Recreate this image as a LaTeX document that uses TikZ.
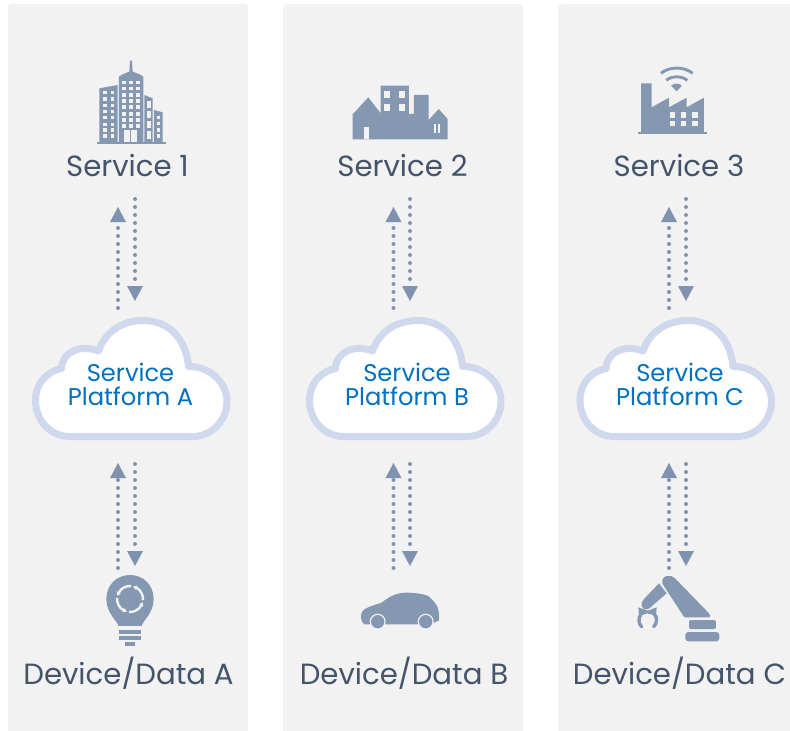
\documentclass[tikz,border=0pt]{standalone}
\usepackage{fontspec}
\setmainfont{Poppins}
\usetikzlibrary{arrows.meta}
\definecolor{panelbg}{HTML}{F2F2F2}
\definecolor{iconc}{HTML}{8598B2}
\definecolor{labelc}{HTML}{44546A}
\definecolor{cloudc}{HTML}{CFD8EC}
\definecolor{platc}{HTML}{0070C0}
\definecolor{arrowc}{HTML}{7F93B0}
\tikzset{
  panel/.style={fill=panelbg,draw=none,rounded corners=4pt},
  svc/.style={font=\fontsize{29.2}{32}\selectfont,text=labelc,inner sep=0pt,anchor=center},
  plat/.style={font=\fontsize{24.2}{24}\selectfont,text=platc,inner sep=0pt,align=center,anchor=center},
  dotarrow/.style={draw=arrowc,line width=4pt,line cap=round,dash pattern=on 0pt off 8pt,
     -{Triangle[width=16pt,length=15pt,sharp,line width=0pt]}},
  cloudshape/.style={fill=white,draw=cloudc,line width=7pt,line join=round},
  ic/.style={fill=iconc,draw=none},
  hole/.style={fill=panelbg,draw=none},
  zoomed/.style={shift={#1},scale=0.3333},
}
\newcommand{\cloudat}[1]{%
  \begin{scope}[shift={(#1,0)}]
  \path[cloudshape] (70,436.5) -- (193,436.5)
    .. controls (212,436.5) and (227,420) .. (227,401.5)
    .. controls (227,382) and (209,366) .. (188.5,366.5)
    .. controls (186,338) and (168,320.5) .. (143.5,320.5)
    .. controls (122,320.5) and (105,332) .. (98.5,351)
    .. controls (80,344) and (62,352) .. (61.5,368.5)
    .. controls (45,372) and (35.5,385) .. (35.5,400.5)
    .. controls (35.5,420) and (50,436.5) .. (70,436.5) -- cycle;
  \end{scope}}
\newcommand{\arrowpair}[3]{%
  \coordinate (u1#3) at (#1,308); \coordinate (u2#3) at (#1,207);
  \coordinate (d1#3) at (#2,199); \coordinate (d2#3) at (#2,301);
  \coordinate (u3#3) at (#1,568); \coordinate (u4#3) at (#1,463);
  \coordinate (d3#3) at (#2,464); \coordinate (d4#3) at (#2,566);
  \draw[dotarrow] (u1#3) -- (u2#3);
  \draw[dotarrow] (d1#3) -- (d2#3);
  \draw[dotarrow] (u3#3) -- (u4#3);
  \draw[dotarrow] (d3#3) -- (d4#3);}
\begin{document}
\begin{tikzpicture}[x=1pt,y=-1pt]
\useasboundingbox (0,0) rectangle (790,731);
\fill[white] (0,0) rectangle (790,731);
\begin{scope}
\clip (0,0) rectangle (790,731);
\path[panel] (8,4) rectangle (248,745);
\path[panel] (283,4) rectangle (523,745);
\path[panel] (558,4) rectangle (800,745);
\end{scope}
% arrows
\arrowpair{118}{135}{a}
\arrowpair{393.5}{410}{b}
\arrowpair{669}{686}{c}
% clouds
\cloudat{0}
\cloudat{274}
\cloudat{544.5}
% building
\begin{scope}[zoomed={(80,50)}]
\fill[ic] (50,275) rectangle (258,281);
\fill[ic] (117,277) -- (117,80) -- (130,72) -- (148,65) -- (150,32) -- (156,32) -- (158,65) -- (177,72) -- (190,80) -- (190,277) -- cycle;
\fill[ic] (58,277) -- (58,115) -- (113,105) -- (113,277) -- cycle;
\fill[ic] (193,277) -- (193,135) -- (218,145) -- (218,277) -- cycle;
\fill[ic] (222,277) -- (222,180) -- (248,187) -- (248,277) -- cycle;
\foreach \r in {92,110,130,148,166,186,205,222} \foreach \c in {126,148,168} \fill[hole] (\c,\r) rectangle ++(11,11);
\foreach \r in {122,142,162,180,198,218,235,253} \foreach \c in {70,92} \fill[hole] (\c,\r) rectangle ++(10,10);
\foreach \r in {152,182,212,243} \fill[hole] (200,\r) rectangle ++(12,23);
\foreach \r in {197,215,234,253} \fill[hole] (230,\r) rectangle ++(10,11);
\fill[hole] (133,241) rectangle (172,275);
\fill[ic] (151,241) rectangle (154,275);
\end{scope}
% city
\begin{scope}[zoomed={(340,70)}]
\fill[ic] (38,208) -- (38,133) -- (85,82) -- (122,130) -- (122,47) -- (207,47) -- (207,132) -- (222,132) -- (222,75) -- (266,75) -- (266,150) -- (296,117) -- (323,147) -- (323,208) -- cycle;
\fill[hole] (71,170) rectangle (88,208);
\foreach \c in {132,177} \foreach \r in {62,103} \fill[hole] (\c,\r) rectangle ++(19,21);
\fill[hole] (282,163) rectangle (288,188);
\fill[hole] (294,163) rectangle (300,188);
\end{scope}
% factory
\begin{scope}[zoomed={(625,55)}]
\fill[ic] (40,230) rectangle (245,238);
\fill[ic] (48,232) -- (48,85) -- (80,85) -- (80,157) -- (132,128) -- (132,157) -- (185,128) -- (185,157) -- (237,128) -- (237,232) -- cycle;
\foreach \c in {134,168,202} \foreach \r in {172,198} \fill[hole] (\c,\r) rectangle ++(16,16);
\fill[ic] (138,92) .. controls (148,84) and (162,84) .. (171,92) -- (155,109) -- cycle;
\draw[iconc,line width=2.9pt] (108,55) .. controls (132,34) and (178,34) .. (203,55);
\draw[iconc,line width=2.9pt] (124,76) .. controls (140,62) and (170,62) .. (187,76);
\end{scope}
% bulb
\begin{scope}[zoomed={(90,550)}]
\fill[ic] (85,228) .. controls (82,212) and (49,190) .. (49,147)
  .. controls (49,105) and (80,75) .. (120,75)
  .. controls (160,75) and (191,105) .. (191,147)
  .. controls (191,190) and (158,212) .. (155,228) -- cycle;
\fill[ic] (87,240) rectangle (153,252);
\fill[ic] (87,258) rectangle (153,270);
\fill[ic] (105,276) rectangle (135,288);
\foreach \a in {5,95,185,275} {
  \pgfmathsetmacro{\e}{\a-65}
  \draw[panelbg,line width=2.4pt] ([shift={(\a:39)}]120,147) arc[start angle=\a,delta angle=-65,radius=39];
  \fill[panelbg] ([shift={(\e:32)}]120,147) -- ([shift={(\e:46)}]120,147) -- ([shift={(\e-16:39)}]120,147) -- cycle;
}
\end{scope}
% car
\begin{scope}[zoomed={(350,570)}]
\fill[ic] (45,163) .. controls (36,160) and (33,150) .. (33,135)
  .. controls (35,118) and (50,112) .. (95,98)
  .. controls (120,78) and (140,68) .. (170,68)
  .. controls (195,68) and (220,72) .. (235,78)
  .. controls (250,92) and (262,105) .. (264,115)
  .. controls (268,130) and (268,145) .. (266,152)
  -- (252,158) -- (245,163) -- cycle;
\fill[hole] (83,155) circle (24);
\fill[ic] (83,155) circle (20);
\fill[hole] (227,155) circle (24);
\fill[ic] (227,155) circle (20);
\end{scope}
% robot
\begin{scope}[zoomed={(625,560)}]
\fill[ic] (118,80) .. controls (106,68) and (112,50) .. (125,48)
  .. controls (135,46) and (143,48) .. (150,55)
  -- (252,160) .. controls (257,165) and (258,172) .. (252,172)
  -- (178,172) -- cycle;
\fill[ic] (102,70) -- (125,100) -- (72,146) .. controls (60,154) and (46,142) .. (50,128) .. controls (52,122) and (54,120) .. (58,116) -- cycle;
\fill[ic,rounded corners=2pt] (192,180) rectangle (273,207);
\fill[ic,rounded corners=3pt] (181,216) rectangle (283,244);
\fill[ic] (40,142) -- (68,152) -- (95,142) -- (93,168) -- (68,160) -- (42,168) -- cycle;
\draw[iconc,line width=3.4pt,line cap=round] (48,162) .. controls (38,175) and (42,195) .. (50,200);
\draw[iconc,line width=3.4pt,line cap=round] (88,162) .. controls (98,172) and (96,192) .. (86,200);
\end{scope}
% labels
\node[svc] (s1) at (127.5,166) {Service 1};
\node[svc] (s2) at (402.5,166) {Service 2};
\node[svc] (s3) at (679,166) {Service 3};
\node[svc] (da) at (128.5,673) {Device/Data A};
\node[svc] (db) at (404,673) {Device/Data B};
\node[svc] (dc) at (679.5,673) {Device/Data C};
\node[plat] (pa) at (130.5,384) {Service\\Platform A};
\node[plat] (pb) at (407,384) {Service\\Platform B};
\node[plat] (pc) at (680,384) {Service\\Platform C};
\end{tikzpicture}
\end{document}
